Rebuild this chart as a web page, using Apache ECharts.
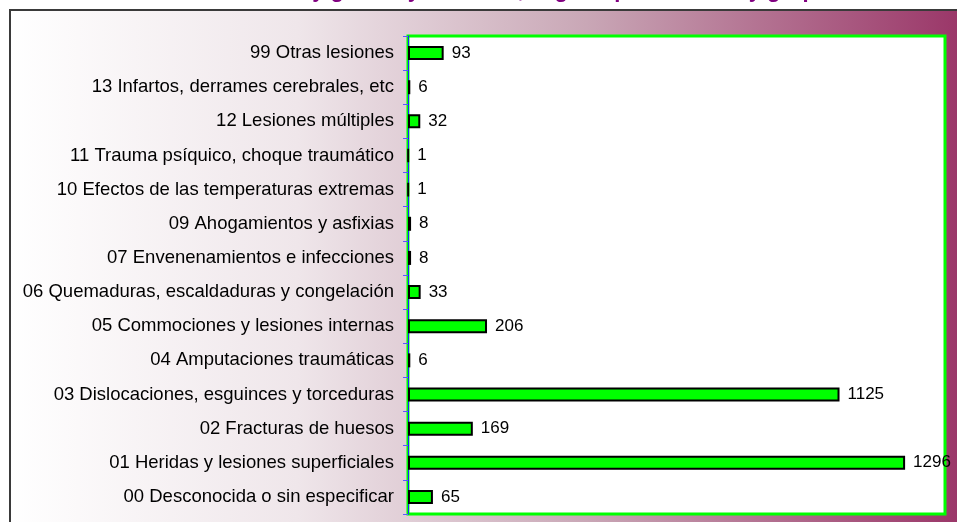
<!DOCTYPE html>
<html>
<head>
<meta charset="utf-8">
<script src="https://cdn.jsdelivr.net/npm/echarts@6/dist/echarts.min.js"></script>
<style>
  html, body { margin: 0; padding: 0; background: #fff; }
  #chart { width: 957px; height: 522px; }
</style>
</head>
<body>
<div id="chart"></div>
<script>
// categories, bottom to top
var categories = [
  '00 Desconocida o sin especificar',
  '01 Heridas y lesiones superficiales',
  '02 Fracturas de huesos',
  '03 Dislocaciones, esguinces y torceduras',
  '04 Amputaciones traumáticas',
  '05 Commociones y lesiones internas',
  '06 Quemaduras, escaldaduras y congelación',
  '07 Envenenamientos e infecciones',
  '09 Ahogamientos y asfixias',
  '10 Efectos de las temperaturas extremas',
  '11 Trauma psíquico, choque traumático',
  '12 Lesiones múltiples',
  '13 Infartos, derrames cerebrales, etc',
  '99 Otras lesiones'
]
var values = [65, 1296, 169, 1125, 6, 206, 33, 8, 8, 1, 1, 32, 6, 93]
var titleText = 'Accidentes leves y graves y mortales, según tipo de lesión y grupo'

var chart = echarts.init(document.getElementById('chart'), null, { renderer: 'canvas' })

chart.setOption({
  backgroundColor: '#ffffff',
  animation: false,
  title: {
    text: titleText,
    left: 'center',
    top: -25.5,
    textStyle: {
      color: '#800080',
      fontFamily: 'Liberation Sans, Arial, sans-serif',
      fontWeight: 'bold',
      fontSize: 22
    }
  },
  graphic: [{
    type: 'rect',
    z: -100,
    silent: true,
    shape: { x: 10, y: 10, width: 960, height: 520 },
    style: {
      fill: new echarts.graphic.LinearGradient(0, 0, 1, 0, [
        { offset: 0, color: '#ffffff' },
        { offset: 0.3, color: '#efe6ea' },
        { offset: 0.6, color: '#c9a7b6' },
        { offset: 1, color: '#993366' }
      ]),
      stroke: '#3a3a3a',
      lineWidth: 2
    }
  }],
  grid: {
    left: 408,
    top: 36,
    right: 12,
    bottom: 8,
    show: true,
    backgroundColor: '#ffffff',
    borderColor: '#00ff00',
    borderWidth: 3
  },
  xAxis: {
    type: 'value',
    min: 0,
    max: 1400,
    show: false
  },
  yAxis: {
    type: 'category',
    data: categories,
    axisLine: { show: true, lineStyle: { color: '#2020ff', width: 1 } },
    axisTick: { show: true, length: 5, lineStyle: { color: '#5a5aff' } },
    axisLabel: {
      color: '#000',
      fontFamily: 'Liberation Sans, Arial, sans-serif',
      fontSize: 18.5,
      margin: 14
    },
    splitLine: { show: false }
  },
  series: [{
    type: 'bar',
    data: values,
    barWidth: 14,
    itemStyle: {
      color: '#00ff00',
      borderColor: '#000000',
      borderWidth: 2
    },
    label: {
      show: true,
      position: 'right',
      distance: 8,
      color: '#000',
      fontFamily: 'Liberation Sans, Arial, sans-serif',
      fontSize: 17
    }
  }]
})
</script>
</body>
</html>
